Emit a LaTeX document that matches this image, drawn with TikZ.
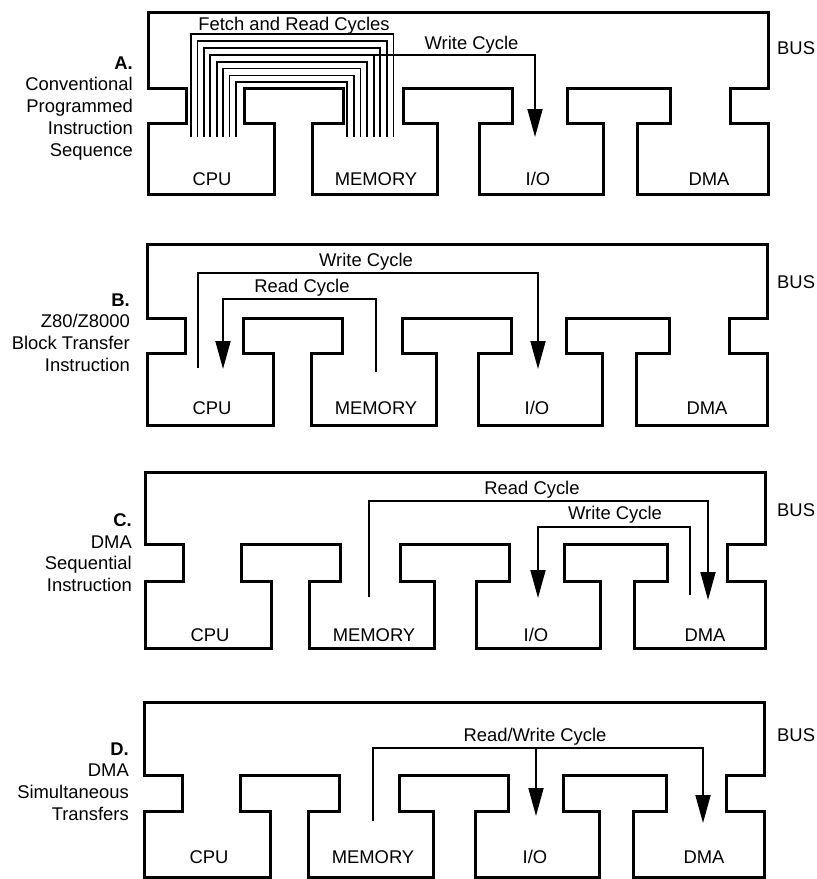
\documentclass[tikz,border=0pt]{standalone}
\usepackage{fontspec}
\setmainfont{Liberation Sans}
\usepackage{tikz}
\usetikzlibrary{arrows.meta, calc}
\newcommand{\lblfont}{\fontsize{18.4}{21.8}\selectfont}
\tikzstyle{busline} = [line width=3pt, line join=miter]
\tikzstyle{cyc} = [line width=1.8pt]
\tikzstyle{arr} = [-{Triangle[length=28pt, width=15pt]}]
\tikzstyle{modlbl} = [anchor=base, inner sep=0pt, font=\lblfont]
\tikzstyle{cyclbl} = [anchor=base, inner sep=0pt, font=\lblfont]
\tikzstyle{buslbl} = [anchor=base west, inner sep=0pt, font=\lblfont]
\tikzstyle{sidelbl} = [anchor=north east, align=right, inner sep=0pt, font=\lblfont]
% bus with CPU, MEMORY, I/O and DMA hanging below: #1 xshift, #2 top, #3 T top, #4 shoulder, #5 bottom
\newcommand{\busoutline}[5]{%
  \draw[busline, xshift=#1pt] (148,#2) -- (768,#2) -- (768,#3) -- (730,#3) -- (730,#4) -- (768,#4)
    -- (768,#5) -- (637,#5) -- (637,#4) -- (670,#4) -- (670,#3) -- (567,#3) -- (567,#4) -- (603,#4)
    -- (603,#5) -- (479,#5) -- (479,#4) -- (512,#4) -- (512,#3) -- (403,#3) -- (403,#4) -- (437,#4)
    -- (437,#5) -- (312,#5) -- (312,#4) -- (343,#4) -- (343,#3) -- (244,#3) -- (244,#4) -- (274,#4)
    -- (274,#5) -- (148,#5) -- (148,#4) -- (186,#4) -- (186,#3) -- (148,#3) -- cycle;}

\begin{document}
\begin{tikzpicture}[x=1pt, y=-1pt]
  \useasboundingbox (0,0) rectangle (817,879);
  % ---------- outlines (one per panel) ----------
  \busoutline{0}{12}{88}{123}{194}
  \busoutline{-1}{244}{318}{353}{425}
  \busoutline{-3}{472}{544}{581}{648}
  \busoutline{-4}{702}{775}{811}{877}
  % ---------- module labels ----------
  \node[modlbl] (cpuA) at (212,185) {CPU};
  \node[modlbl] (memA) at (376,185) {MEMORY};
  \node[modlbl] (ioA)  at (538,185) {I/O};
  \node[modlbl] (dmaA) at (709,185) {DMA};
  \node[modlbl] (cpuB) at (212,414) {CPU};
  \node[modlbl] (memB) at (376,414) {MEMORY};
  \node[modlbl] (ioB)  at (537,414) {I/O};
  \node[modlbl] (dmaB) at (707,414) {DMA};
  \node[modlbl] (cpuC) at (210,641) {CPU};
  \node[modlbl] (memC) at (374,641) {MEMORY};
  \node[modlbl] (ioC)  at (536,641) {I/O};
  \node[modlbl] (dmaC) at (705,641) {DMA};
  \node[modlbl] (cpuD) at (209,863) {CPU};
  \node[modlbl] (memD) at (373,863) {MEMORY};
  \node[modlbl] (ioD)  at (535,863) {I/O};
  \node[modlbl] (dmaD) at (704,863) {DMA};
  % ---------- bus and panel labels ----------
  \node[buslbl] (busA) at (777,54.5) {BUS};
  \node[buslbl] (busB) at (777,288.5) {BUS};
  \node[buslbl] (busC) at (777,516.5) {BUS};
  \node[buslbl] (busD) at (777,741.5) {BUS};
  \node[sidelbl] (sideA) at (133,56.3) {\textbf{A.}\\Conventional\\Programmed\\Instruction\\Sequence};
  \node[sidelbl] (sideB) at (130,293.3) {\textbf{B.}\\Z80/Z8000\\Block Transfer\\Instruction};
  \node[sidelbl] (sideC) at (132,513.3) {\textbf{C.}\\DMA\\Sequential\\Instruction};
  \node[sidelbl] (sideD) at (129,742.3) {\textbf{D.}\\DMA\\Simultaneous\\Transfers};
  % ---------- A: fetch/read loops and write ----------
  \node[cyclbl] (fetchA) at (294,30.5) {Fetch and Read Cycles};
  \node[cyclbl] (wrlblA) at (471.5,49.5) {Write Cycle};
  \foreach \i in {0,...,7}{
    \coordinate (cpuA-\i) at ({191+6.4*\i},137);
    \coordinate (memA-\i) at ({393.5-6.6*\i},137);
    \draw[cyc] (cpuA-\i) -- ++(0,{-103+6.9*\i}) -| (memA-\i);
  }
  \coordinate (ioA-in) at (535,137);
  \draw[cyc, arr] (cpuA-3) -- ++(0,-82.3) -| (ioA-in);
  % ---------- B: block transfer ----------
  \node[cyclbl] (wrlblB) at (366,266.5) {Write Cycle};
  \node[cyclbl] (rdlblB) at (302,292.5) {Read Cycle};
  \coordinate (cpuB-out) at (198,368);
  \coordinate (ioB-in)   at (538,369);
  \coordinate (memB-out) at (376,372);
  \coordinate (cpuB-in)  at (223,369);
  \draw[cyc, arr] (cpuB-out) -- ++(0,-95) -| (ioB-in);
  \draw[cyc, arr] (memB-out) -- ++(0,-73) -| (cpuB-in);
  % ---------- C: DMA sequential ----------
  \node[cyclbl] (rdlblC) at (532,494.5) {Read Cycle};
  \node[cyclbl] (wrlblC) at (615,519.5) {Write Cycle};
  \coordinate (memC-out) at (369,597);
  \coordinate (dmaC-in)  at (708,600);
  \coordinate (dmaC-out) at (690,595);
  \coordinate (ioC-in)   at (538,598);
  \draw[cyc, arr] (memC-out) -- ++(0,-96) -| (dmaC-in);
  \draw[cyc, arr] (dmaC-out) -- ++(0,-68) -| (ioC-in);
  % ---------- D: DMA simultaneous ----------
  \node[cyclbl] (rwlblD) at (535,741.5) {Read/Write Cycle};
  \coordinate (memD-out) at (373,821);
  \coordinate (dmaD-in)  at (703,823);
  \coordinate (ioD-in)   at (536,816);
  \draw[cyc, arr] (memD-out) -- ++(0,-73) coordinate (rwD-top) -| (dmaD-in);
  \draw[cyc, arr] (rwD-top -| ioD-in) -- (ioD-in);
\end{tikzpicture}
\end{document}
